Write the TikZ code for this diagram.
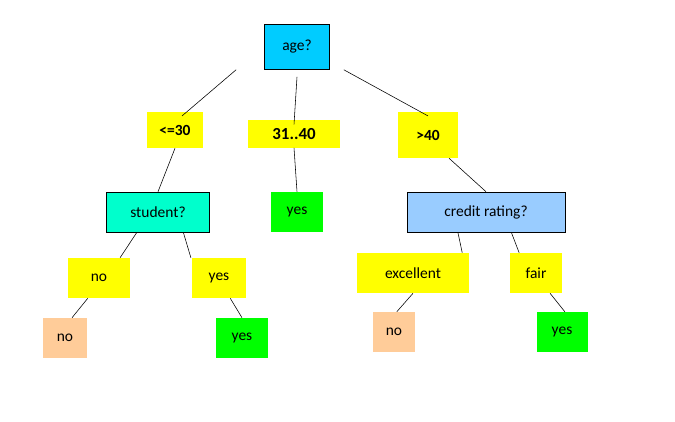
\documentclass[tikz,border=0pt]{standalone}
\usepackage{fontspec}
\setmainfont{Carlito}
\definecolor{agecol}{RGB}{0,204,255}
\definecolor{studcol}{RGB}{0,255,204}
\definecolor{credcol}{RGB}{153,204,255}
\definecolor{yel}{RGB}{255,255,0}
\definecolor{grn}{RGB}{0,255,0}
\definecolor{peach}{RGB}{255,204,153}

\begin{document}
\begin{tikzpicture}[x=0.025cm,y=-0.025cm,
	font=\fontsize{11}{13}\selectfont,
	box/.style={inner sep=0pt,align=center},
	ask/.style={box,draw=black,thin},
	branch/.style={box,fill=yel},
	leaf/.style={box}]
	\useasboundingbox (0,0) rectangle (675,421);

	\node[ask,fill=agecol,minimum width=1.625cm,minimum height=1.125cm] (age) at (297,47) {age?};

	\node[branch,font=\fontsize{11}{13}\selectfont\bfseries,minimum width=1.4cm,minimum height=0.9cm] (le30) at (175,130) {<=30};
	\node[branch,font=\fontsize{12}{14}\selectfont\bfseries,minimum width=2.3cm,minimum height=0.675cm] (mid) at (294,134) {31..40};
	\node[branch,font=\fontsize{11}{13}\selectfont\bfseries,minimum width=1.5cm,minimum height=1.15cm] (gt40) at (428,135) {>40};

	\node[ask,fill=studcol,minimum width=2.575cm,minimum height=1cm] (student) at (158,212) {student?};
	\node[leaf,fill=grn,minimum width=1.275cm,minimum height=1cm] (yesmid) at (297,212) {yes};
	\node[ask,fill=credcol,minimum width=3.95cm,minimum height=1cm] (credit) at (486,212) {credit rating?};

	\node[branch,minimum width=1.525cm,minimum height=1cm] (sno) at (99,278) {no};
	\node[branch,minimum width=1.325cm,minimum height=1cm] (syes) at (219,278) {yes};
	\node[branch,minimum width=2.775cm,minimum height=1cm] (exc) at (413,273) {excellent};
	\node[branch,minimum width=1.3cm,minimum height=1cm] (fair) at (536,273) {fair};

	\node[leaf,fill=peach,minimum width=1.075cm,minimum height=1cm] (lno) at (65,338) {no};
	\node[leaf,fill=grn,minimum width=1.3cm,minimum height=1cm] (lyes) at (242,338) {yes};
	\node[leaf,fill=peach,minimum width=1.05cm,minimum height=1cm] (eno) at (394,332) {no};
	\node[leaf,fill=grn,minimum width=1.275cm,minimum height=1cm] (fyes) at (562,332) {yes};

	% connectors
	\begin{scope}[thin]
		\draw ([xshift=-20]age.south west) -- ([xshift=5,yshift=-3]le30.north);
		\draw ([yshift=-5]age.south) -- ([yshift=-3]mid.north);
		\draw ([xshift=10]age.south east) -- ([yshift=-3]gt40.north);
		\draw (le30.south) -- (student.north);
		\draw (mid.south) -- (yesmid.north);
		\draw ([xshift=15]gt40.south) -- (credit.north);
		\draw ([xshift=-15]student.south) -- ([xshift=15]sno.north);
		\draw ([xshift=18]student.south) -- ([xshift=-20]syes.north);
		\draw ([xshift=-20]credit.south) -- ([xshift=35]exc.north);
		\draw ([xshift=18]credit.south) -- ([xshift=-12]fair.north);
		\draw ([xshift=-8]sno.south) -- ([xshift=5]lno.north);
		\draw ([xshift=8]syes.south) -- (lyes.north);
		\draw (exc.south) -- ([xshift=2]eno.north);
		\draw ([xshift=10]fair.south) -- ([xshift=2]fyes.north);
	\end{scope}
\end{tikzpicture}
\end{document}
